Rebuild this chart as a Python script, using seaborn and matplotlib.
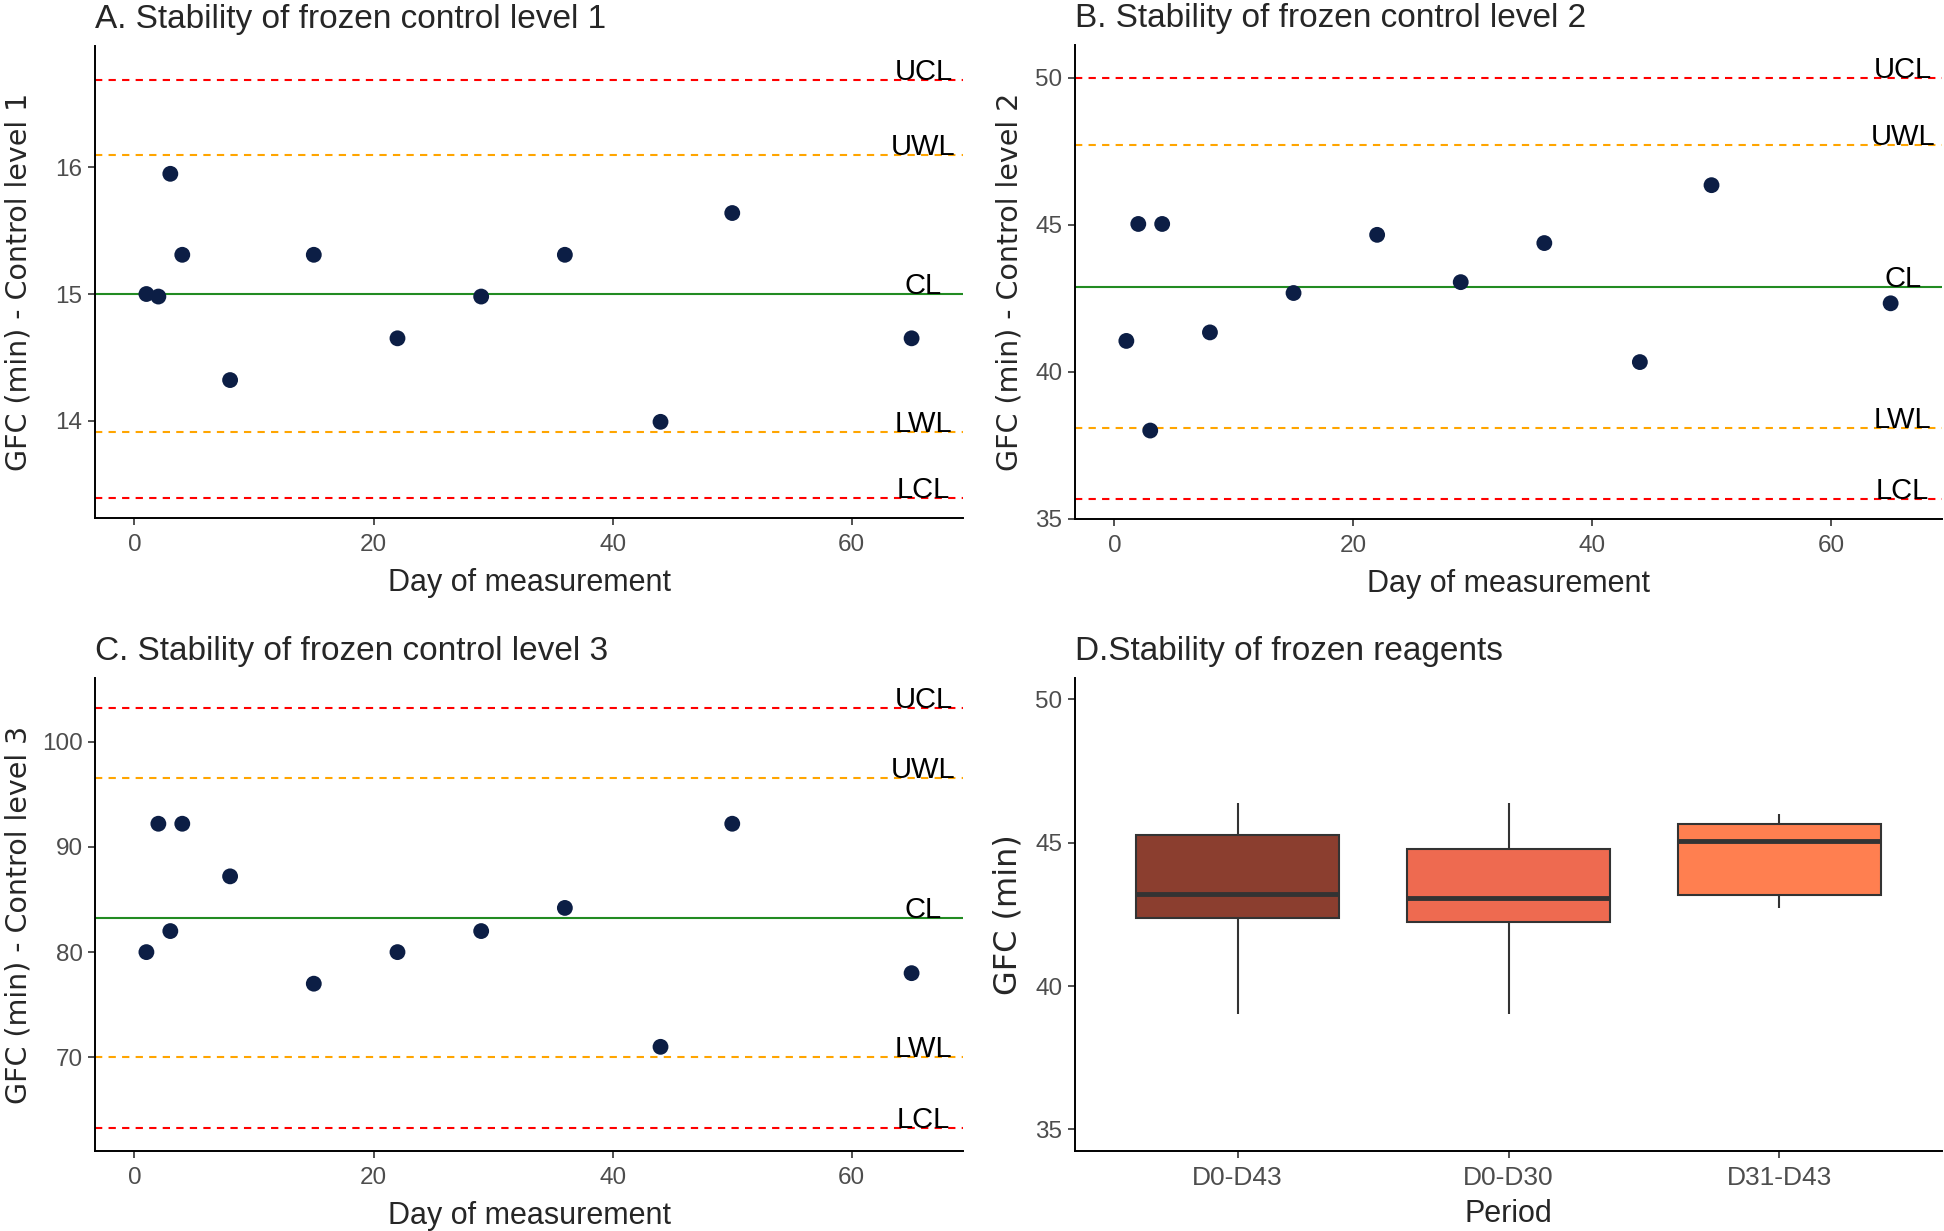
import numpy as np
import pandas as pd
import matplotlib.pyplot as plt
import seaborn as sns

# data
days = [1, 2, 3, 4, 8, 15, 22, 29, 36, 44, 50, 65]
gfc_level1 = [15.0, 14.98, 15.95, 15.31, 14.32, 15.31, 14.65, 14.98, 15.31, 13.99, 15.64, 14.65]
gfc_level2 = [41.05, 45.03, 38.0, 45.03, 41.34, 42.68, 44.66, 43.05, 44.38, 40.33, 46.35, 42.33]
gfc_level3 = [80.0, 92.2, 82.0, 92.2, 87.2, 77.0, 80.0, 82.0, 84.2, 71.0, 92.2, 78.0]

limit_names = ['UCL', 'UWL', 'CL', 'LWL', 'LCL']
limits_level1 = [16.69, 16.10, 15.0, 13.91, 13.39]
limits_level2 = [50.0, 47.72, 42.9, 38.08, 35.68]
limits_level3 = [103.2, 96.5, 83.2, 70.0, 63.3]

periods = ['D0-D43', 'D0-D30', 'D31-D43']
whisker_low = [39.04, 39.04, 42.72]
q1 = [42.37, 42.23, 43.17]
median = [43.2, 43.06, 45.08]
q3 = [45.27, 44.78, 45.64]
whisker_high = [46.38, 46.38, 46.0]
box_colors = ['#8B3E2F', '#EE6A50', '#FF7F50']

sns.set_style("ticks")
plt.rcParams['font.family'] = ['Liberation Sans', 'DejaVu Sans']

W, H = 1944, 1231
fig = plt.figure(figsize=(W / 100, H / 100), dpi=100)

def px_axes(l, t, r, b):
    return fig.add_axes([l / W, 1 - b / H, (r - l) / W, (b - t) / H])

axA = px_axes(95, 46, 963, 518)
axB = px_axes(1075, 45, 1942, 519)
axC = px_axes(95, 678, 963, 1151)
axD = px_axes(1075, 678, 1942, 1151)

line_styles = {
    'UCL': dict(color='#FF0000', ls=(0, (3.5, 3.0))),
    'UWL': dict(color='#FFA500', ls=(0, (3.5, 3.0))),
    'CL': dict(color='#228B22', ls='-'),
    'LWL': dict(color='#FFA500', ls=(0, (3.5, 3.0))),
    'LCL': dict(color='#FF0000', ls=(0, (3.5, 3.0))),
}

def style_axis(ax, ylabel, xlabel, title, ylab_x, ylab_size=20.5, xlab_pad=9):
    sns.despine(ax=ax)
    for s in ['left', 'bottom']:
        ax.spines[s].set_linewidth(1.4)
        ax.spines[s].set_color('black')
    ax.tick_params(axis='both', length=5, width=1.2, color='#333333',
                   labelcolor='#4D4D4D', labelsize=17.5, pad=4)
    ax.tick_params(axis='x', pad=6.5)
    ax.set_title(title, loc='left', fontsize=24, pad=13)
    ax.set_xlabel(xlabel, fontsize=22, labelpad=xlab_pad)
    ax.set_ylabel(ylabel, fontsize=ylab_size, family=['DejaVu Sans'])
    ax.yaxis.set_label_coords(ylab_x, 0.5)
    ax.grid(False)

def control_chart(ax, values, limits, ylim, yticks, title, ylabel):
    for name, val in zip(limit_names, limits):
        st = line_styles[name]
        ax.axhline(val, color=st['color'], linestyle=st['ls'], linewidth=1.5, zorder=1)
        ax.text(66.0, val, name, ha='center', va='baseline', fontsize=21, color='black', zorder=4)
    sns.scatterplot(x=days, y=values, ax=ax, color='#0C1E45', s=130,
                    edgecolor='none', zorder=3)
    ax.set_xlim(-3.3, 69.3)
    ax.set_ylim(*ylim)
    ax.set_xticks([0, 20, 40, 60])
    ax.set_yticks(yticks)
    style_axis(ax, ylabel, 'Day of measurement', title,
               ylab_x=-62 / 868 if ax in (axA, axC) else -52 / 867)

control_chart(axA, gfc_level1, limits_level1, (13.23, 16.96), [14, 15, 16],
              'A. Stability of frozen control level 1', 'GFC (min) - Control level 1')
control_chart(axB, gfc_level2, limits_level2, (34.99, 51.12), [35, 40, 45, 50],
              'B. Stability of frozen control level 2', 'GFC (min) - Control level 2')
control_chart(axC, gfc_level3, limits_level3, (61.1, 106.05), [70, 80, 90, 100],
              'C. Stability of frozen control level 3', 'GFC (min) - Control level 3')

# box data: five summary values per period
box_df = pd.DataFrame({
    'Period': np.repeat(periods, 5),
    'GFC': np.column_stack([whisker_low, q1, median, q3, whisker_high]).ravel(),
})
sns.boxplot(data=box_df, x='Period', y='GFC', hue='Period', palette=box_colors,
            order=periods, hue_order=periods, width=0.75, saturation=1,
            linecolor='#333333', linewidth=1.5, showcaps=False, fliersize=0,
            legend=False, ax=axD,
            medianprops=dict(linewidth=3.5, color='#333333'))
axD.set_xlim(-0.6, 2.6)
axD.set_ylim(34.25, 50.75)
axD.set_yticks([35, 40, 45, 50])
style_axis(axD, 'GFC (min)', 'Period', 'D.Stability of frozen reagents', -52 / 867,
           ylab_size=23, xlab_pad=6)
axD.tick_params(axis='x', labelsize=19, pad=6)

fig.savefig('out.png', dpi=100)
